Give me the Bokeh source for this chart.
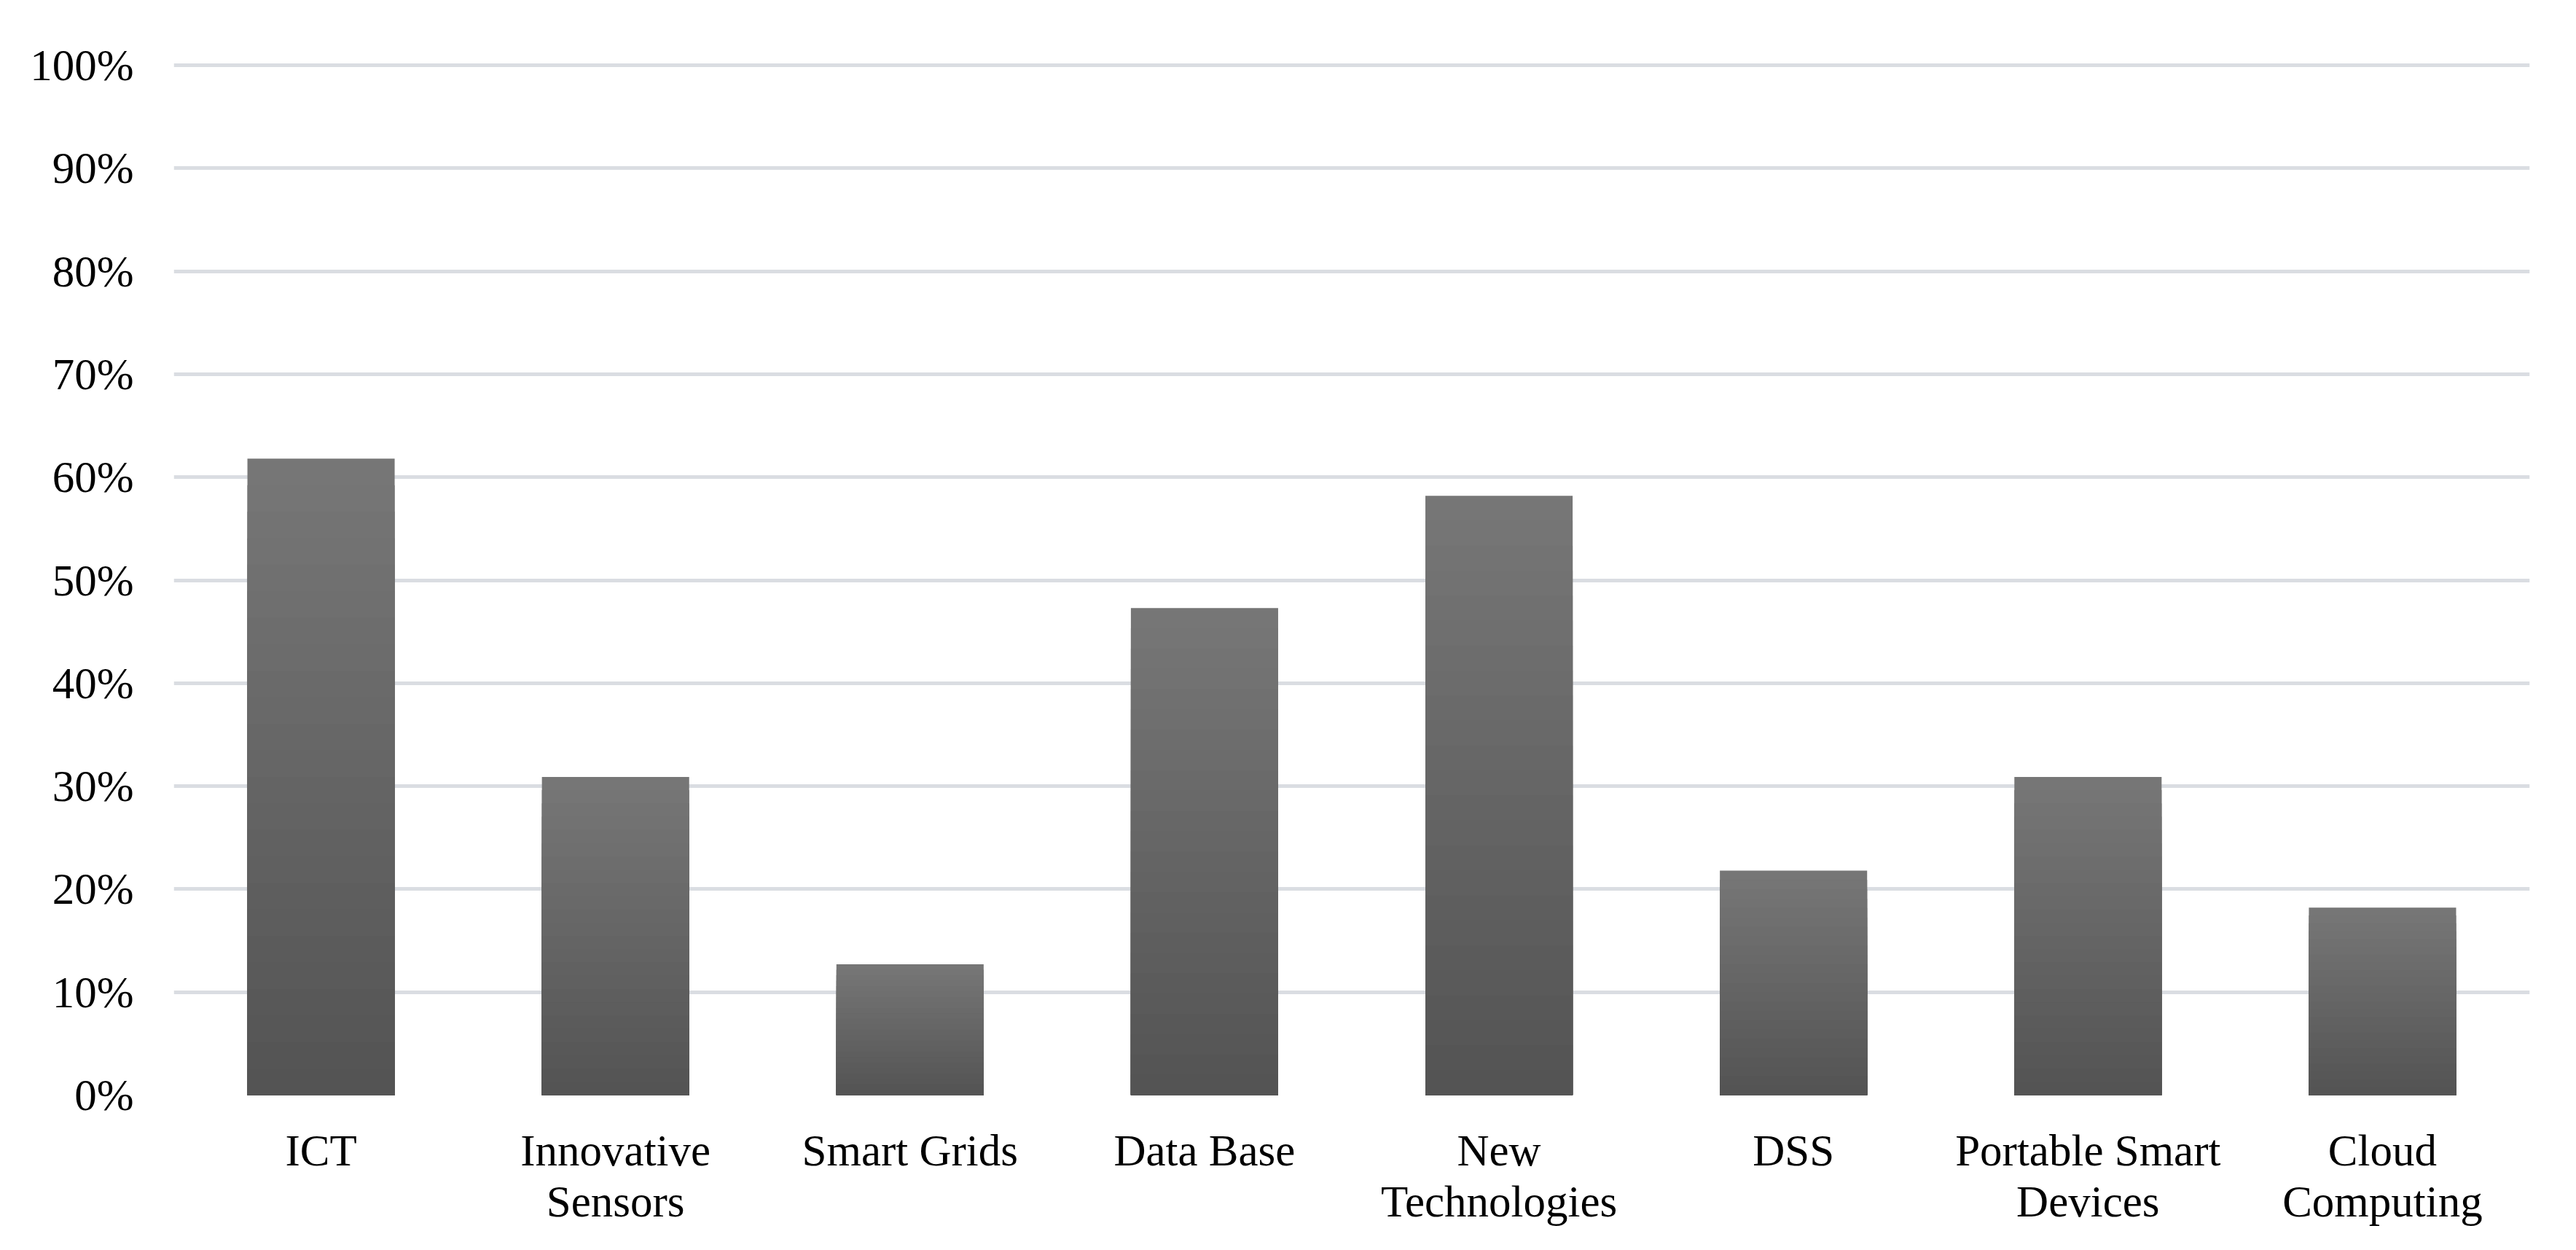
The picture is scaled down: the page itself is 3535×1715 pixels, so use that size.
import json
from bokeh.plotting import figure
from bokeh.models import (FixedTicker, NumeralTickFormatter, Range1d, ColumnDataSource,
                          CategoricalAxis, CustomJSTickFormatter)
from bokeh.embed import file_html
from bokeh.resources import INLINE

categories = ["ICT", "Innovative Sensors", "Smart Grids", "Data Base",
              "New Technologies", "DSS", "Portable Smart Devices", "Cloud Computing"]
label_line1 = ["ICT", "Innovative", "Smart Grids", "Data Base",
               "New", "DSS", "Portable Smart", "Cloud"]
label_line2 = ["", "Sensors", "", "",
               "Technologies", "", "Devices", "Computing"]
values = [0.618, 0.309, 0.127, 0.473, 0.582, 0.218, 0.309, 0.182]
y_ticks = [0.0, 0.1, 0.2, 0.3, 0.4, 0.5, 0.6, 0.7, 0.8, 0.9, 1.0]

FONT = "Liberation Serif"
FSIZE = "61px"

p = figure(x_range=categories, y_range=Range1d(0, 1.01),
           width=3519, height=1699, output_backend="svg", toolbar_location=None,
           min_border_left=238, min_border_right=48, min_border_top=75, min_border_bottom=197)
p.outline_line_color = None
p.background_fill_color = "white"
p.border_fill_color = "white"

# gradient-looking bars: nested bars, lightest (tallest) drawn first
N = 24
top_rgb = (0x76, 0x76, 0x76)
bot_rgb = (0x54, 0x54, 0x54)
for k in range(N - 1, -1, -1):
    t = k / (N - 1)
    c = tuple(int(round(bot_rgb[i] + (top_rgb[i] - bot_rgb[i]) * t)) for i in range(3))
    col = "#%02x%02x%02x" % c
    frac = (k + 1) / N
    src = ColumnDataSource(dict(x=categories, top=[v * frac for v in values]))
    p.vbar(x="x", top="top", bottom=0, width=0.5, source=src,
           fill_color=col, line_color=None)

# grid
p.xgrid.grid_line_color = None
p.ygrid.grid_line_color = "#dadde2"
p.ygrid.grid_line_width = 5
p.ygrid.level = "underlay"

# y axis
p.yaxis.ticker = FixedTicker(ticks=y_ticks)
p.yaxis.formatter = NumeralTickFormatter(format="0%")
p.yaxis.axis_line_color = None
p.yaxis.major_tick_line_color = None
p.yaxis.minor_tick_line_color = None
p.yaxis.major_tick_out = 0
p.yaxis.major_tick_in = 0
p.yaxis.major_label_standoff = 55
p.yaxis.major_label_text_font = FONT
p.yaxis.major_label_text_font_size = FSIZE
p.yaxis.major_label_text_color = "black"


def make_formatter(lines):
    mapping = json.dumps(dict(zip(categories, lines)))
    return CustomJSTickFormatter(code="const m = %s; const v = m[tick]; return v === undefined ? '' : v;" % mapping)


def style_xaxis(ax, standoff):
    ax.axis_line_color = None
    ax.major_tick_line_color = None
    ax.minor_tick_line_color = None
    ax.major_tick_out = 0
    ax.major_tick_in = 0
    ax.major_label_standoff = standoff
    ax.major_label_text_font = FONT
    ax.major_label_text_font_size = FSIZE
    ax.major_label_text_color = "black"


# first line of category labels
p.xaxis[0].formatter = make_formatter(label_line1)
style_xaxis(p.xaxis[0], 42)

# second line of category labels
ax2 = CategoricalAxis(formatter=make_formatter(label_line2))
style_xaxis(ax2, 0)
p.add_layout(ax2, "below")

p.x_range.range_padding = 0

open("out.html", "w").write(file_html(p, INLINE))
